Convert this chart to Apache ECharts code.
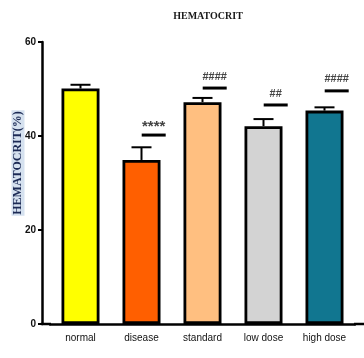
<!DOCTYPE html>
<html>
<head>
<meta charset="utf-8">
<script src="https://cdn.jsdelivr.net/npm/echarts@6/dist/echarts.min.js"></script>
<style>
  html, body { margin: 0; padding: 0; background: #fff; }
  #chart { width: 364px; height: 358px; }
</style>
</head>
<body>
<div id="chart"></div>
<script>
// Hematocrit (%) per treatment group: mean, error (SEM) and significance marks
const groups = ['normal', 'disease', 'standard', 'low dose', 'high dose'];
const means = [50.1, 34.9, 47.2, 42.1, 45.4];
const errors = [0.8, 2.7, 0.9, 1.5, 0.7];
const barColors = ['#FFFF00', '#FF5F00', '#FFBF80', '#D3D3D3', '#117690'];
const sigMarks = ['', '****', '####', '##', '####'];
const sigLevels = [null, 40.2, 50.2, 46.6, 49.6];
const yTicks = [0, 20, 40, 60];

const chart = echarts.init(document.getElementById('chart'));

const labelFont = '"Liberation Sans", Arial, sans-serif';
const serifFont = '"Liberation Serif", "DejaVu Serif", serif';

chart.setOption({
  animation: false,
  backgroundColor: '#fff',
  title: {
    text: 'HEMATOCRIT',
    left: 203,
    textAlign: 'center',
    top: 6,
    textStyle: {
      fontFamily: serifFont,
      fontWeight: 'bold',
      fontSize: 10,
      color: '#1a1a1a'
    }
  },
  grid: { left: 50, right: 9, top: 42, bottom: 34 },
  xAxis: {
    type: 'category',
    data: groups,
    axisLine: { lineStyle: { color: '#000', width: 2.5 } },
    axisTick: { alignWithLabel: true, length: 5, lineStyle: { color: '#000', width: 2 } },
    axisLabel: {
      interval: 0,
      margin: 9,
      fontFamily: labelFont,
      fontSize: 10,
      color: '#111'
    }
  },
  yAxis: {
    type: 'value',
    min: yTicks[0],
    max: yTicks[yTicks.length - 1],
    interval: 20,
    offset: 8,
    axisLine: { show: true, lineStyle: { color: '#000', width: 2.5 } },
    axisTick: { show: true, length: 4, lineStyle: { color: '#000', width: 2 } },
    splitLine: { show: false },
    axisLabel: {
      margin: 6,
      fontFamily: labelFont,
      fontWeight: 'bold',
      fontSize: 10,
      color: '#111'
    }
  },
  graphic: [
    // extend the x axis baseline left to the y axis and to the right edge
    { type: 'line', shape: { x1: 40.8, y1: 324, x2: 51, y2: 324 }, style: { stroke: '#000', lineWidth: 2.5 } },
    { type: 'line', shape: { x1: 354, y1: 324, x2: 364, y2: 324 }, style: { stroke: '#000', lineWidth: 2.5 } },
    // y axis title, highlighted
    {
      type: 'text',
      x: 18,
      y: 163,
      rotation: Math.PI / 2,
      style: {
        text: 'HEMATOCRIT(%)',
        align: 'center',
        verticalAlign: 'middle',
        font: 'bold 12px "Liberation Serif", serif',
        fill: '#1c2a55',
        backgroundColor: '#d5e1ef',
        padding: [1, 1, 0, 1]
      }
    }
  ],
  series: [
    {
      type: 'bar',
      barWidth: 38,
      data: means.map((v, i) => ({
        value: v,
        itemStyle: { color: barColors[i], borderColor: '#000', borderWidth: 2.8 }
      })),
      z: 2
    },
    {
      // error bars above each bar
      type: 'custom',
      z: 3,
      data: means.map((v, i) => [i, v, v + errors[i]]),
      renderItem: function (params, api) {
        const i = api.value(0);
        const base = api.coord([i, api.value(1)]);
        const top = api.coord([i, api.value(2)]);
        const half = 10;
        return {
          type: 'group',
          children: [
            { type: 'line', shape: { x1: base[0], y1: base[1], x2: top[0], y2: top[1] }, style: { stroke: '#000', lineWidth: 2 } },
            { type: 'line', shape: { x1: top[0] - half, y1: top[1], x2: top[0] + half, y2: top[1] }, style: { stroke: '#000', lineWidth: 2 } }
          ]
        };
      }
    },
    {
      // significance bars with their marks
      type: 'custom',
      z: 4,
      data: sigLevels.map((v, i) => [i, v === null ? '-' : v]),
      renderItem: function (params, api) {
        const i = api.value(0);
        const lvl = api.value(1);
        if (isNaN(lvl)) return null;
        const p = api.coord([i, lvl]);
        const band = api.size([1, 0])[0];
        const cx = p[0] + band * 0.2;
        const halfLen = 12;
        const isStar = sigMarks[i].charAt(0) === '*';
        return {
          type: 'group',
          children: [
            { type: 'line', shape: { x1: cx - halfLen, y1: p[1], x2: cx + halfLen, y2: p[1] }, style: { stroke: '#000', lineWidth: 3 } },
            {
              type: 'text',
              x: cx,
              y: isStar ? p[1] - 1 : p[1] - 6,
              style: {
                text: sigMarks[i],
                align: 'center',
                verticalAlign: 'bottom',
                fill: '#444',
                font: isStar ? 'bold 15px "Liberation Sans", sans-serif' : 'bold 11px "Liberation Sans", sans-serif'
              }
            }
          ]
        };
      }
    }
  ]
});
</script>
</body>
</html>
